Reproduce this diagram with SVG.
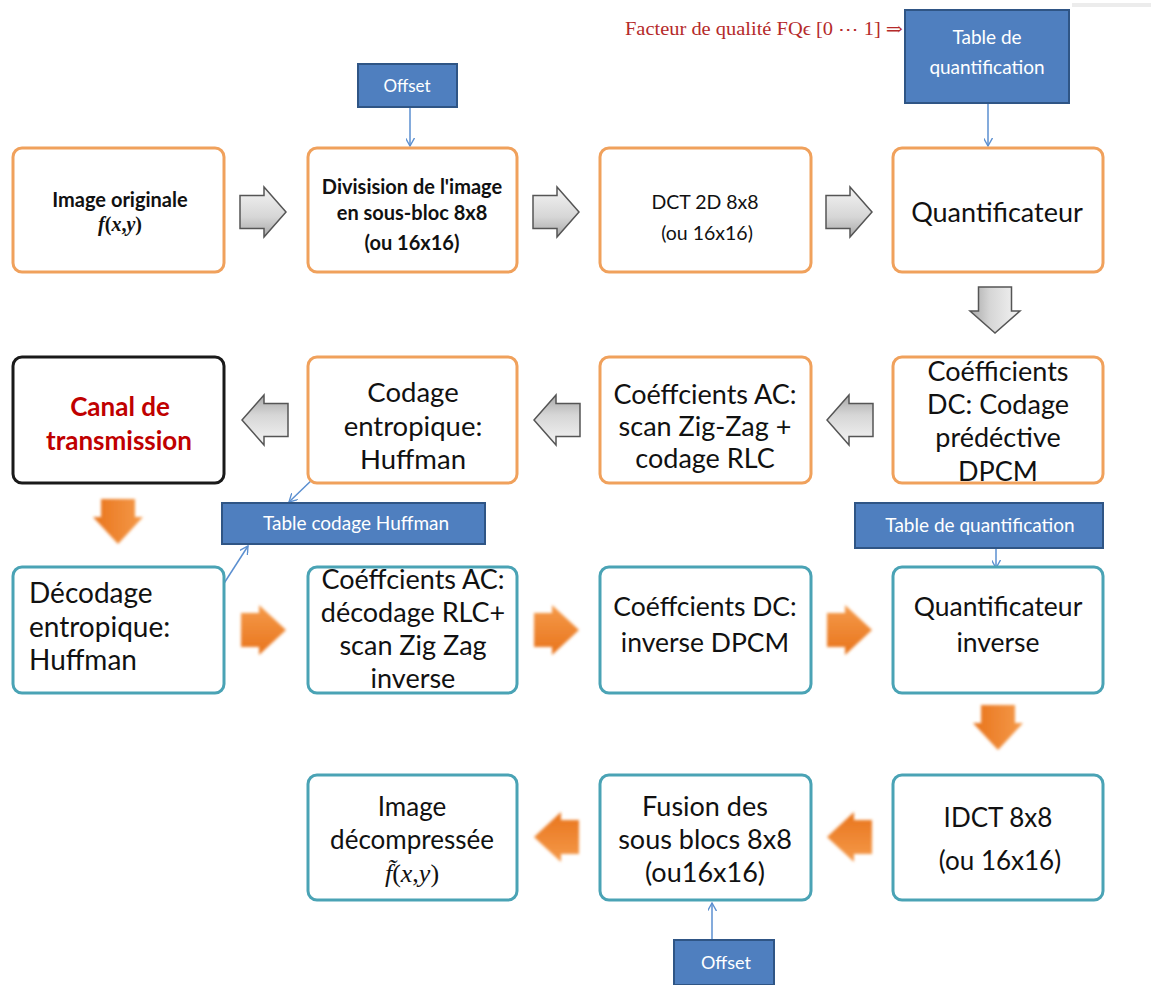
<svg xmlns="http://www.w3.org/2000/svg" width="1151" height="985" viewBox="0 0 1151 985">
  <style>
    .enc { fill: #ffffff; stroke: #f0a15c; stroke-width: 3; }
    .dec { fill: #ffffff; stroke: #4aa3b5; stroke-width: 3; }
    .chan { fill: #ffffff; stroke: #1a1a1a; stroke-width: 3; }
    .blue { fill: #4f7fbf; stroke: #2f5585; stroke-width: 2; }
    .t { font-family: Lato, "Open Sans", "Liberation Sans", sans-serif; fill: #111; text-anchor: middle; }
    .l { text-anchor: start; }
    .b { font-weight: bold; }
    .red { fill: #c00000; }
    .w { fill: #ffffff; font-size: 19px; }
    .m { font-family: "Liberation Serif", "DejaVu Serif", serif; }
    .i { font-style: italic; }
    .link { stroke: #5b8fd0; stroke-width: 1.5; fill: none; marker-end: url(#tip); }
    .ga { fill: url(#gray); stroke: #555; stroke-width: 1.5; }
    .oa { fill: url(#orng); filter: url(#soft); }
  </style>
  <defs>
    <marker id="tip" viewBox="0 0 10 10" refX="9" refY="5" markerWidth="9" markerHeight="9" orient="auto" markerUnits="userSpaceOnUse">
      <path d="M0,0 L9,5 L0,10" fill="none" stroke="#5b8fd0" stroke-width="1.5"/>
    </marker>
    <linearGradient id="gray" x1="0" y1="0" x2="0" y2="1">
      <stop offset="0" stop-color="#f4f4f4"/>
      <stop offset="0.6" stop-color="#d6d6d6"/>
      <stop offset="1" stop-color="#a8a8a8"/>
    </linearGradient>
    <linearGradient id="orng" x1="0" y1="0" x2="0" y2="1">
      <stop offset="0" stop-color="#f59a4a"/>
      <stop offset="1" stop-color="#e8741c"/>
    </linearGradient>
    <filter id="soft" x="-20%" y="-20%" width="140%" height="140%">
      <feGaussianBlur stdDeviation="1.6"/>
    </filter>
    <!-- block arrows, drawn pointing right; rotated where needed -->
    <path id="gr" d="M0,8.5 L24,8.5 L24,0 L46,25 L24,50 L24,41.5 L0,41.5 Z"/>
    <path id="or" d="M0,8 L18,8 L18,0 L45,25 L18,50 L18,42 L0,42 Z"/>
  </defs>

  <!-- thin rule at the top edge -->
  <rect x="1072" y="3" width="79" height="4" fill="#ececec"/>

  <!-- quality factor annotation -->
  <text x="625" y="35" font-family="'Liberation Serif', 'DejaVu Serif', serif" font-size="18" fill="#b52a2a" textLength="278" lengthAdjust="spacingAndGlyphs">Facteur de qualité FQϵ [0 ⋯ 1] ⇒</text>

  <!-- connectors -->
  <g id="connectors">
    <!-- encoder chain (grey arrows) -->
    <use href="#gr" class="ga" transform="translate(240,187)"/>
    <use href="#gr" class="ga" transform="translate(533,187)"/>
    <use href="#gr" class="ga" transform="translate(826,187)"/>
    <use href="#gr" class="ga" transform="translate(1020,287) rotate(90)"/>
    <use href="#gr" class="ga" transform="translate(873,445) rotate(180)"/>
    <use href="#gr" class="ga" transform="translate(580,445) rotate(180)"/>
    <use href="#gr" class="ga" transform="translate(288,445) rotate(180)"/>
    <!-- decoder chain (orange arrows) -->
    <use href="#or" class="oa" transform="translate(143,499) rotate(90)"/>
    <use href="#or" class="oa" transform="translate(241,605)"/>
    <use href="#or" class="oa" transform="translate(534,605)"/>
    <use href="#or" class="oa" transform="translate(827,605)"/>
    <use href="#or" class="oa" transform="translate(1023,705) rotate(90)"/>
    <use href="#or" class="oa" transform="translate(872,862) rotate(180)"/>
    <use href="#or" class="oa" transform="translate(579,862) rotate(180)"/>
    <!-- thin side inputs -->
    <line class="link" x1="410" y1="107" x2="410" y2="146"/>
    <line class="link" x1="988" y1="103" x2="988" y2="146"/>
    <line class="link" x1="316" y1="476" x2="289" y2="502"/>
    <line class="link" x1="221" y1="588" x2="248" y2="546"/>
    <line class="link" x1="996" y1="548" x2="996" y2="568"/>
    <line class="link" x1="712" y1="940" x2="712" y2="903"/>
  </g>

  <!-- side tables -->
  <g id="offset-top">
    <rect class="blue" x="358" y="64" width="99" height="43"/>
    <text class="t w" x="407" y="92" style="font-size:17px">Offset</text>
  </g>
  <g id="qtable-top">
    <rect class="blue" x="905" y="10" width="164" height="93"/>
    <text class="t w" x="987" y="44">Table de</text>
    <text class="t w" x="987" y="74">quantification</text>
  </g>
  <g id="huffman-table">
    <rect class="blue" x="222" y="503" width="263" height="41"/>
    <text class="t w" x="356" y="530">Table codage Huffman</text>
  </g>
  <g id="qtable-bottom">
    <rect class="blue" x="855" y="503" width="248" height="45"/>
    <text class="t w" x="980" y="532">Table de quantification</text>
  </g>
  <g id="offset-bottom">
    <rect class="blue" x="674" y="940" width="100" height="45"/>
    <text class="t w" x="726" y="969" style="font-size:18px">Offset</text>
  </g>

  <!-- encoder, row 1 -->
  <g id="image-originale">
    <rect class="enc" x="13" y="148" width="211" height="124" rx="9"/>
    <text class="t b" x="120" y="207" font-size="20">Image originale</text>
    <text class="t b m" x="120" y="231" font-size="20"><tspan class="i">f</tspan>(<tspan class="i">x</tspan>,<tspan class="i">y</tspan>)</text>
  </g>
  <g id="division">
    <rect class="enc" x="308" y="148" width="209" height="124" rx="9"/>
    <text class="t b" x="412" y="194" font-size="20">Divisision de l'image</text>
    <text class="t b" x="412" y="220" font-size="20">en sous-bloc 8x8</text>
    <text class="t b" x="412" y="250" font-size="20">(ou 16x16)</text>
  </g>
  <g id="dct">
    <rect class="enc" x="600" y="148" width="211" height="124" rx="9"/>
    <text class="t" x="705" y="209" font-size="19.5">DCT 2D 8x8</text>
    <text class="t" x="707" y="240" font-size="19.5">(ou 16x16)</text>
  </g>
  <g id="quantificateur">
    <rect class="enc" x="893" y="148" width="210" height="124" rx="9"/>
    <text class="t" x="997" y="222" font-size="27">Quantificateur</text>
  </g>

  <!-- encoder, row 2 -->
  <g id="canal">
    <rect class="chan" x="13" y="357" width="211" height="126" rx="9"/>
    <text class="t b red" x="120" y="416" font-size="26">Canal de</text>
    <text class="t b red" x="119" y="450" font-size="26">transmission</text>
  </g>
  <g id="codage-entropique">
    <rect class="enc" x="308" y="357" width="209" height="126" rx="9"/>
    <text class="t" x="413" y="402" font-size="27.5">Codage</text>
    <text class="t" x="413" y="436" font-size="27.5">entropique:</text>
    <text class="t" x="413" y="469" font-size="27.5">Huffman</text>
  </g>
  <g id="ac-zigzag">
    <rect class="enc" x="600" y="357" width="211" height="126" rx="9"/>
    <text class="t" x="705" y="404" font-size="27">Coéffcients AC:</text>
    <text class="t" x="705" y="436" font-size="27">scan Zig-Zag +</text>
    <text class="t" x="705" y="468" font-size="27">codage RLC</text>
  </g>
  <g id="dc-dpcm">
    <rect class="enc" x="893" y="357" width="210" height="126" rx="9"/>
    <text class="t" x="998" y="381" font-size="27">Coéfficients</text>
    <text class="t" x="998" y="414" font-size="27">DC: Codage</text>
    <text class="t" x="998" y="447" font-size="27">prédéctive</text>
    <text class="t" x="998" y="481" font-size="27">DPCM</text>
  </g>

  <!-- decoder, row 3 -->
  <g id="decodage">
    <rect class="dec" x="13" y="567" width="211" height="126" rx="9"/>
    <text class="t l" x="29" y="603" font-size="28">Décodage</text>
    <text class="t l" x="29" y="637" font-size="28">entropique:</text>
    <text class="t l" x="29" y="670" font-size="28">Huffman</text>
  </g>
  <g id="ac-inverse">
    <rect class="dec" x="308" y="567" width="209" height="126" rx="9"/>
    <text class="t" x="413" y="589" font-size="27">Coéffcients AC:</text>
    <text class="t" x="413" y="622" font-size="27">décodage RLC+</text>
    <text class="t" x="413" y="655" font-size="27">scan Zig Zag</text>
    <text class="t" x="413" y="688" font-size="27">inverse</text>
  </g>
  <g id="dc-inverse">
    <rect class="dec" x="600" y="567" width="211" height="126" rx="9"/>
    <text class="t" x="705" y="616" font-size="26.5">Coéffcients DC:</text>
    <text class="t" x="705" y="652" font-size="26.5">inverse DPCM</text>
  </g>
  <g id="quantificateur-inverse">
    <rect class="dec" x="893" y="567" width="210" height="126" rx="9"/>
    <text class="t" x="998" y="616" font-size="26.5">Quantificateur</text>
    <text class="t" x="998" y="652" font-size="26.5">inverse</text>
  </g>

  <!-- decoder, row 4 -->
  <g id="image-decompressee">
    <rect class="dec" x="308" y="775" width="209" height="125" rx="9"/>
    <text class="t" x="412" y="816" font-size="26">Image</text>
    <text class="t" x="412" y="849" font-size="26">décompressée</text>
    <text class="t m" x="412" y="882" font-size="26"><tspan class="i">f̃</tspan>(<tspan class="i">x</tspan>,<tspan class="i">y</tspan>)</text>
  </g>
  <g id="fusion">
    <rect class="dec" x="600" y="775" width="211" height="125" rx="9"/>
    <text class="t" x="705" y="816" font-size="27">Fusion des</text>
    <text class="t" x="705" y="849" font-size="27">sous blocs 8x8</text>
    <text class="t" x="705" y="882" font-size="27">(ou16x16)</text>
  </g>
  <g id="idct">
    <rect class="dec" x="893" y="775" width="210" height="125" rx="9"/>
    <text class="t" x="998" y="827" font-size="26">IDCT 8x8</text>
    <text class="t" x="1000" y="870" font-size="26">(ou 16x16)</text>
  </g>
</svg>
